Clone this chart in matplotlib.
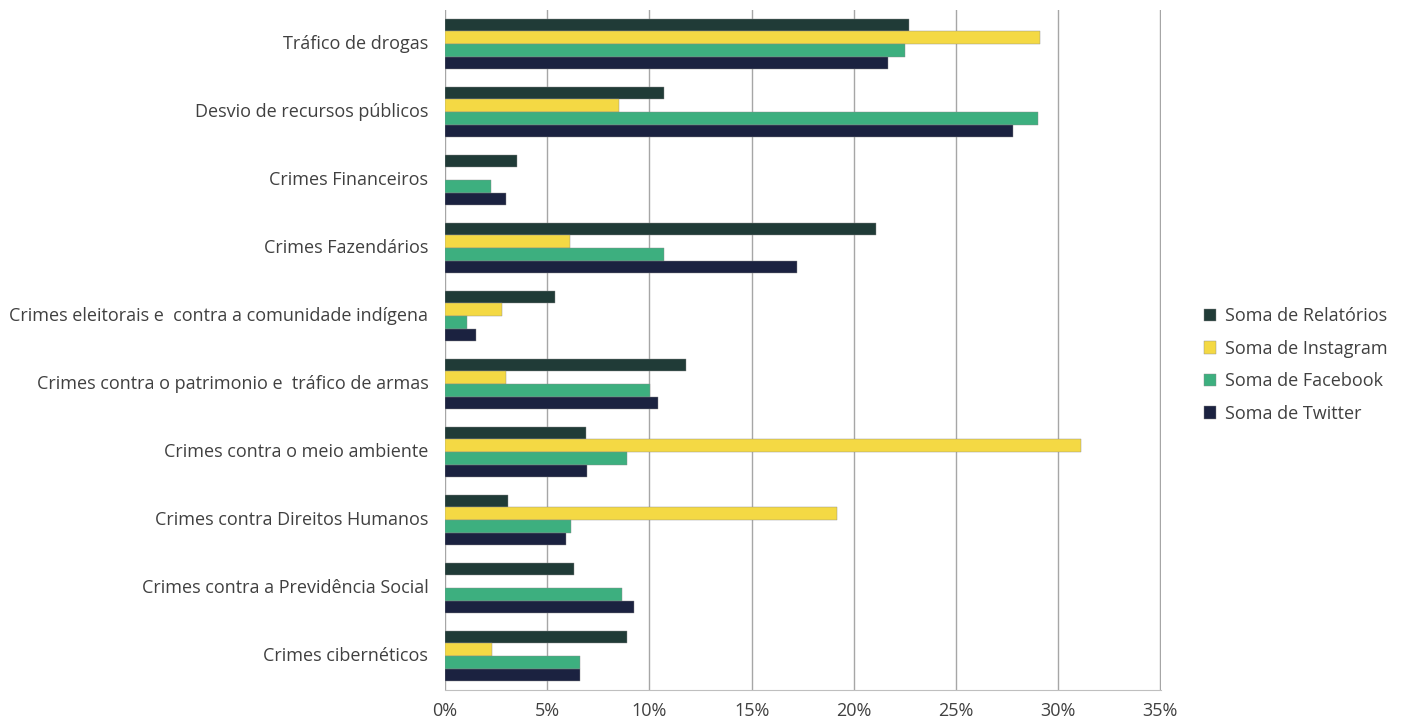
import matplotlib.pyplot as plt
import numpy as np
from matplotlib.ticker import PercentFormatter

categorias = ['Tráfico de drogas', 'Desvio de recursos públicos', 'Crimes Financeiros',
              'Crimes Fazendários', 'Crimes eleitorais e  contra a comunidade indígena',
              'Crimes contra o patrimonio e  tráfico de armas', 'Crimes contra o meio ambiente',
              'Crimes contra Direitos Humanos', 'Crimes contra a Previdência Social',
              'Crimes cibernéticos']
relatorios = [22.7, 10.7, 3.5, 21.1, 5.4, 11.8, 6.9, 3.1, 6.3, 8.9]
instagram = [29.1, 8.5, 0.0, 6.1, 2.8, 3.0, 31.1, 19.2, 0.0, 2.3]
facebook = [22.5, 29.0, 2.25, 10.7, 1.1, 10.05, 8.9, 6.15, 8.65, 6.6]
twitter = [21.65, 27.8, 3.0, 17.2, 1.5, 10.4, 6.95, 5.9, 9.25, 6.6]

series = [('Soma de Relatórios', relatorios, '#203b37'),
          ('Soma de Instagram', instagram, '#f4d944'),
          ('Soma de Facebook', facebook, '#3daf7f'),
          ('Soma de Twitter', twitter, '#1b2240')]

plt.rcParams['font.family'] = ['Open Sans', 'DejaVu Sans']
fig = plt.figure(figsize=(14.01, 7.23), dpi=100)
ax = fig.add_axes([445 / 1401, 33 / 723, 716 / 1401, 680 / 723])

y = np.arange(len(categorias))
h = 0.184
for i, (nome, vals, cor) in enumerate(series):
    ax.barh(y + (i - 1.5) * h, vals, height=h, color=cor, label=nome,
            edgecolor='#8a8a8a', linewidth=0.3)

ax.set_xlim(0, 35.03)
ax.set_ylim(len(categorias) - 0.5, -0.5)
ax.set_xticks(np.arange(0, 36, 5))
ax.xaxis.set_major_formatter(PercentFormatter(decimals=0))
ax.set_yticks(y - 0.03)
ax.set_yticklabels(categorias)
ax.tick_params(axis='both', length=0, labelsize=13, labelcolor='#404040')
ax.tick_params(axis='x', pad=9)
ax.tick_params(axis='y', pad=12)
ax.grid(axis='x', color='#a6a6a6', linewidth=1)
ax.set_axisbelow(True)
for s in ['top', 'right', 'left']:
    ax.spines[s].set_visible(False)
ax.spines['bottom'].set_color('#bfbfbf')

ax.legend(loc='center left', bbox_to_anchor=(1.037, 0.478), frameon=False,
          fontsize=13, labelcolor='#404040', handlelength=0.7, handleheight=0.7,
          handletextpad=0.5, labelspacing=0.8)

plt.savefig('out.png', dpi=100)
